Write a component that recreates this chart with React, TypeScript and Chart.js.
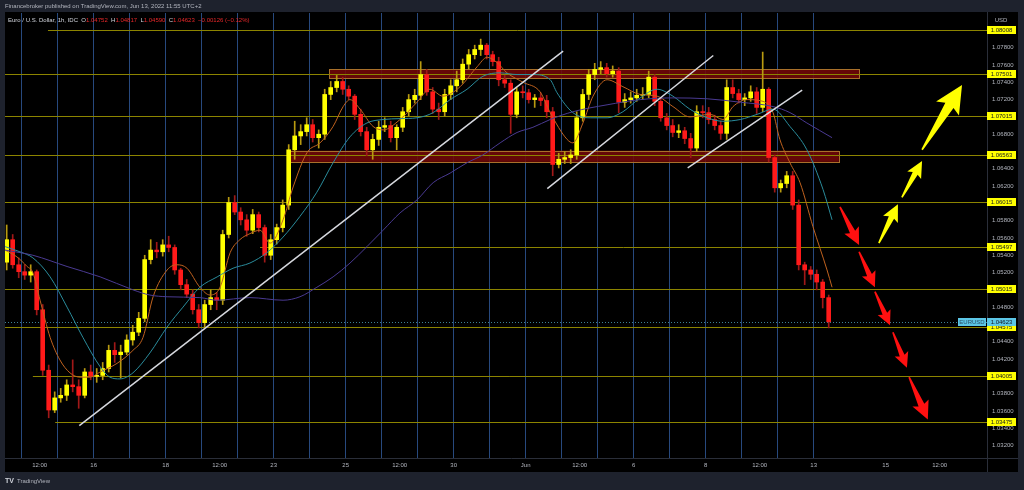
import React, { useEffect, useRef } from 'react';
import { Chart, registerables } from 'chart.js';
Chart.register(...registerables);

const FONT = '"Liberation Sans", Arial, sans-serif';

// ---- price data: 4-hour candles, EUR/USD, starting 11 May 12:00 (trading-day index -0.5) ----
const candleStartDay = -0.5;
const candleHours = 4;
const firstOpen = 1.0532;
const closes = [
  1.0558, 1.0529, 1.0521, 1.0517, 1.0521, 1.0477, 1.0407, 1.0361, 1.0375, 1.0378,
  1.0390, 1.0388, 1.0378, 1.0405, 1.0400, 1.0401, 1.0409, 1.0430, 1.0425, 1.0428,
  1.0442, 1.0451, 1.0467, 1.0535, 1.0546, 1.0544, 1.0552, 1.0549, 1.0523, 1.0506,
  1.0495, 1.0477, 1.0462, 1.0483, 1.0491, 1.0488, 1.0564, 1.0601, 1.0590, 1.0581,
  1.0569, 1.0587, 1.0572, 1.0540, 1.0558, 1.0572, 1.0598, 1.0662, 1.0678, 1.0683,
  1.0691, 1.0676, 1.0680, 1.0726, 1.0734, 1.0741, 1.0732, 1.0724, 1.0703, 1.0683,
  1.0662, 1.0674, 1.0688, 1.0690, 1.0676, 1.0688, 1.0706, 1.0720, 1.0725, 1.0749,
  1.0729, 1.0709, 1.0706, 1.0726, 1.0736, 1.0743, 1.0761, 1.0772, 1.0778, 1.0783,
  1.0772, 1.0764, 1.0743, 1.0739, 1.0703, 1.0729, 1.0728, 1.0720, 1.0722, 1.0719,
  1.0706, 1.0645, 1.0651, 1.0653, 1.0656, 1.0699, 1.0726, 1.0749, 1.0755, 1.0757,
  1.0750, 1.0753, 1.0717, 1.0720, 1.0722, 1.0725, 1.0726, 1.0746, 1.0718, 1.0699,
  1.0690, 1.0682, 1.0684, 1.0675, 1.0664, 1.0706, 1.0705, 1.0697, 1.0690, 1.0681,
  1.0734, 1.0727, 1.0720, 1.0722, 1.0729, 1.0711, 1.0732, 1.0653, 1.0618, 1.0623,
  1.0632, 1.0598, 1.0529, 1.0523, 1.0518, 1.0509, 1.0491, 1.0463,
];
const highs = [
  1.0575, 1.0564, 1.0537, 1.0529, 1.0529, 1.0523, 1.0483, 1.0413, 1.0382, 1.0386,
  1.0396, 1.0419, 1.0396, 1.0409, 1.0413, 1.0409, 1.0416, 1.0436, 1.0439, 1.0436,
  1.0448, 1.0459, 1.0474, 1.0540, 1.0558, 1.0555, 1.0558, 1.0562, 1.0552, 1.0525,
  1.0512, 1.0500, 1.0483, 1.0488, 1.0500, 1.0497, 1.0569, 1.0607, 1.0609, 1.0595,
  1.0587, 1.0593, 1.0590, 1.0575, 1.0564, 1.0576, 1.0604, 1.0668, 1.0695, 1.0691,
  1.0699, 1.0697, 1.0685, 1.0732, 1.0741, 1.0748, 1.0746, 1.0736, 1.0726, 1.0709,
  1.0688, 1.0680, 1.0695, 1.0699, 1.0695, 1.0691, 1.0711, 1.0726, 1.0732, 1.0764,
  1.0755, 1.0734, 1.0716, 1.0732, 1.0743, 1.0753, 1.0767, 1.0778, 1.0783, 1.0790,
  1.0785, 1.0776, 1.0769, 1.0748, 1.0743, 1.0734, 1.0736, 1.0732, 1.0726, 1.0728,
  1.0725, 1.0711, 1.0658, 1.0660, 1.0662, 1.0706, 1.0732, 1.0755, 1.0762, 1.0764,
  1.0762, 1.0759, 1.0757, 1.0727, 1.0729, 1.0732, 1.0734, 1.0753, 1.0749, 1.0722,
  1.0704, 1.0697, 1.0691, 1.0688, 1.0681, 1.0713, 1.0713, 1.0711, 1.0702, 1.0695,
  1.0743, 1.0743, 1.0732, 1.0727, 1.0736, 1.0734, 1.0775, 1.0734, 1.0656, 1.0627,
  1.0637, 1.0637, 1.0604, 1.0532, 1.0527, 1.0523, 1.0512, 1.0494,
];
const lows = [
  1.0523, 1.0525, 1.0514, 1.0512, 1.0509, 1.0471, 1.0401, 1.0352, 1.0358, 1.0370,
  1.0372, 1.0382, 1.0363, 1.0375, 1.0396, 1.0393, 1.0396, 1.0405, 1.0416, 1.0398,
  1.0425, 1.0436, 1.0447, 1.0463, 1.0530, 1.0537, 1.0539, 1.0544, 1.0518, 1.0500,
  1.0491, 1.0472, 1.0456, 1.0457, 1.0477, 1.0477, 1.0483, 1.0560, 1.0587, 1.0575,
  1.0562, 1.0565, 1.0567, 1.0532, 1.0535, 1.0553, 1.0567, 1.0593, 1.0651, 1.0668,
  1.0678, 1.0671, 1.0664, 1.0674, 1.0720, 1.0729, 1.0726, 1.0720, 1.0697, 1.0678,
  1.0655, 1.0651, 1.0667, 1.0683, 1.0671, 1.0662, 1.0683, 1.0701, 1.0716, 1.0720,
  1.0725, 1.0704, 1.0697, 1.0701, 1.0720, 1.0729, 1.0739, 1.0755, 1.0767, 1.0771,
  1.0767, 1.0759, 1.0736, 1.0734, 1.0681, 1.0699, 1.0722, 1.0716, 1.0711, 1.0713,
  1.0699, 1.0632, 1.0641, 1.0646, 1.0646, 1.0651, 1.0695, 1.0720, 1.0743, 1.0750,
  1.0746, 1.0746, 1.0705, 1.0711, 1.0716, 1.0718, 1.0720, 1.0722, 1.0713, 1.0695,
  1.0685, 1.0677, 1.0676, 1.0669, 1.0653, 1.0660, 1.0699, 1.0692, 1.0685, 1.0674,
  1.0674, 1.0722, 1.0716, 1.0713, 1.0718, 1.0704, 1.0706, 1.0648, 1.0613, 1.0613,
  1.0618, 1.0593, 1.0523, 1.0506, 1.0512, 1.0500, 1.0479, 1.0456,
];

// ---- moving averages (day index, price) ----
const fastMaDays = [-0.46, -0.13, 0.15, 0.31, 0.51, 0.79, 1.06, 1.34, 1.62, 1.9, 2.18, 2.65, 3.09, 3.37, 3.65, 4.04, 4.31, 4.59, 4.95, 5.23, 5.51, 5.79, 6.06, 6.34, 6.62, 6.9, 7.26, 7.54, 7.93, 8.29, 8.65, 8.93, 9.12, 9.4, 9.76, 10.04, 10.51, 10.98, 11.34, 11.7, 12.18, 12.65, 12.93, 13.2, 13.48, 13.93, 14.4, 14.68, 15.15, 15.31, 15.59, 15.87, 16.26, 16.7, 17.18, 17.65, 18.09, 18.56, 19.12, 19.48, 19.76, 20.15, 20.59, 20.87, 21.06, 21.34, 21.62, 21.98, 22.37, 22.51];
const fastMaValues = [1.0546, 1.0538, 1.0527, 1.052, 1.0488, 1.0445, 1.0419, 1.0404, 1.0399, 1.0399, 1.0405, 1.0415, 1.043, 1.0445, 1.0492, 1.0523, 1.0529, 1.0525, 1.0503, 1.0494, 1.0503, 1.0543, 1.0558, 1.0565, 1.0569, 1.0554, 1.0581, 1.0619, 1.0659, 1.067, 1.0689, 1.0712, 1.072, 1.0709, 1.0689, 1.0685, 1.0697, 1.0717, 1.0732, 1.0724, 1.0735, 1.0758, 1.0769, 1.0763, 1.0751, 1.074, 1.0729, 1.0705, 1.0674, 1.067, 1.0693, 1.0724, 1.0743, 1.0735, 1.0726, 1.0724, 1.0712, 1.07, 1.0703, 1.0697, 1.0712, 1.072, 1.0718, 1.0705, 1.0674, 1.0647, 1.0624, 1.0573, 1.0523, 1.0503];
const midMaDays = [-0.46, -0.05, 0.31, 0.79, 1.26, 1.7, 2.18, 2.45, 2.73, 3.09, 3.56, 4.04, 4.48, 4.95, 5.43, 5.87, 6.34, 6.81, 7.26, 7.73, 8.2, 8.65, 9.12, 9.59, 10.04, 10.51, 10.98, 11.43, 11.9, 12.37, 12.81, 13.29, 13.76, 14.2, 14.68, 14.87, 15.31, 15.79, 16.26, 16.7, 17.18, 17.65, 18.09, 18.56, 19.04, 19.48, 19.96, 20.43, 20.87, 21.34, 21.81, 22.26, 22.51];
const midMaValues = [1.055, 1.0544, 1.0537, 1.0515, 1.048, 1.0445, 1.0411, 1.0399, 1.0397, 1.0404, 1.0427, 1.0457, 1.048, 1.0503, 1.0515, 1.0525, 1.0531, 1.0543, 1.0561, 1.0585, 1.0613, 1.0647, 1.0677, 1.0693, 1.0697, 1.0698, 1.0699, 1.0705, 1.072, 1.0732, 1.0747, 1.0751, 1.0749, 1.0749, 1.0743, 1.0728, 1.0705, 1.0699, 1.0699, 1.0706, 1.0722, 1.0732, 1.0724, 1.0709, 1.0699, 1.0695, 1.0697, 1.0703, 1.0709, 1.0689, 1.0662, 1.0616, 1.0581];
const slowMaDays = [-0.46, 0.31, 1.26, 2.18, 3.09, 3.56, 4.04, 4.95, 5.43, 6.34, 7.26, 7.73, 8.2, 8.65, 9.12, 9.59, 10.04, 10.51, 10.98, 11.43, 11.9, 12.37, 12.81, 13.29, 13.76, 14.2, 14.68, 15.31, 16.26, 17.18, 18.09, 19.04, 19.96, 20.87, 21.34, 21.81, 22.51];
const slowMaValues = [1.0546, 1.054, 1.0527, 1.0515, 1.05, 1.0494, 1.0492, 1.0491, 1.0488, 1.0491, 1.0488, 1.0492, 1.0503, 1.0515, 1.0531, 1.055, 1.0569, 1.0589, 1.0604, 1.0624, 1.0635, 1.0647, 1.0656, 1.067, 1.0682, 1.0688, 1.0697, 1.0706, 1.0714, 1.072, 1.0722, 1.0721, 1.0717, 1.0712, 1.0705, 1.0693, 1.0676];

// ---- horizontal levels ----
const levelPrices = [1.08008, 1.07501, 1.07015, 1.06563, 1.06015, 1.05497, 1.05015, 1.04575, 1.04005, 1.03475];
const levelStartDays = [0.73, -0.47, -0.47, -0.47, -0.47, 6.62, -0.47, -0.47, 0.31, 0.93];

// ---- zones ----
const zoneStartDays = [8.54, 7.37];
const zoneEndDays = [23.27, 22.7];
const zoneTops = [1.0755, 1.0661];
const zoneBottoms = [1.0745, 1.0648];

// ---- trend lines ----
const trendStartDays = [1.6, 14.6, 18.5];
const trendStartPrices = [1.0343, 1.0617, 1.0641];
const trendEndDays = [15.04, 19.21, 21.68];
const trendEndPrices = [1.0776, 1.0771, 1.0731];

// ---- projected arrows ----
const redArrowStartDays = [22.73, 23.26, 23.7, 24.2, 24.65];
const redArrowStartPrices = [1.0596, 1.0544, 1.0498, 1.0451, 1.0399];
const redArrowEndDays = [23.26, 23.7, 24.12, 24.59, 25.17];
const redArrowEndPrices = [1.0552, 1.0503, 1.0459, 1.041, 1.035];
const yellowArrowStartDays = [23.81, 24.45, 25.01];
const yellowArrowStartPrices = [1.0554, 1.0607, 1.0662];
const yellowArrowEndDays = [24.34, 25.01, 26.12];
const yellowArrowEndPrices = [1.0599, 1.0649, 1.0737];

// ---- axes ----
const gridDays = [0, 1, 2, 3, 4, 5, 6, 7, 8, 9, 10, 11, 12, 13, 14, 15, 16, 17, 18, 19, 20, 21, 22];
const xLabelDays = [0.5, 2, 4, 5.5, 7, 9, 10.5, 12, 14, 15.5, 17, 19, 20.5, 22, 24, 25.5];
const xLabelTexts = ['12:00', '16', '18', '12:00', '23', '25', '12:00', '30', 'Jun', '12:00', '6', '8', '12:00', '13', '15', '12:00'];
const yTickValues = [1.032, 1.034, 1.036, 1.038, 1.042, 1.044, 1.048, 1.052, 1.054, 1.056, 1.058, 1.062, 1.064, 1.068, 1.072, 1.074, 1.076, 1.078];
const lastPrice = 1.04623;

const X_MIN = -0.4639;
const X_MAX = 26.814;
const Y_MIN = 1.03055;
const Y_MAX = 1.08202;

const FRAME = { left: 5, top: 12, right: 1018, bottom: 472 };

function drawArrow(ctx: CanvasRenderingContext2D, x1: number, y1: number, x2: number, y2: number, color: string) {
  const dx = x2 - x1, dy = y2 - y1;
  const L = Math.hypot(dx, dy);
  const ux = dx / L, uy = dy / L, nx = -uy, ny = ux;
  const head = Math.min(L * 0.34, 24);
  const hw = head * 0.56;
  const sw = head * 0.2;
  const s0 = 0.8;
  const bx = x2 - ux * head, by = y2 - uy * head;
  const back = head * 0.15;
  ctx.fillStyle = color;
  ctx.beginPath();
  ctx.moveTo(x1 + nx * s0, y1 + ny * s0);
  ctx.lineTo(bx + nx * sw, by + ny * sw);
  ctx.lineTo(bx - ux * back + nx * hw, by - uy * back + ny * hw);
  ctx.lineTo(x2, y2);
  ctx.lineTo(bx - ux * back - nx * hw, by - uy * back - ny * hw);
  ctx.lineTo(bx - nx * sw, by - ny * sw);
  ctx.lineTo(x1 - nx * s0, y1 - ny * s0);
  ctx.closePath();
  ctx.fill();
}

function priceLabel(ctx: CanvasRenderingContext2D, y: number, text: string, bg: string, fg: string) {
  ctx.fillStyle = bg;
  ctx.fillRect(987, Math.round(y) - 4, 29, 8);
  ctx.fillStyle = fg;
  ctx.font = `6px ${FONT}`;
  ctx.textAlign = 'center';
  ctx.textBaseline = 'middle';
  ctx.fillText(text, 1001.5, Math.round(y) + 0.5);
}

const decorPlugin = {
  id: 'decor',
  beforeDraw(chart: any) {
    const { ctx, width, height } = chart;
    ctx.save();
    ctx.fillStyle = '#1e222d';
    ctx.fillRect(0, 0, width, height);
    ctx.fillStyle = '#000000';
    ctx.fillRect(FRAME.left, FRAME.top, FRAME.right - FRAME.left, FRAME.bottom - FRAME.top);
    ctx.restore();
  },
  beforeDatasetsDraw(chart: any) {
    const { ctx, chartArea: a } = chart;
    const xs = chart.scales.x, ys = chart.scales.y;
    ctx.save();
    ctx.beginPath();
    ctx.rect(a.left, a.top, a.right - a.left, a.bottom - a.top);
    ctx.clip();
    zoneStartDays.forEach((d, i) => {
      const x1 = xs.getPixelForValue(d), x2 = xs.getPixelForValue(zoneEndDays[i]);
      const y1 = ys.getPixelForValue(zoneTops[i]), y2 = ys.getPixelForValue(zoneBottoms[i]);
      ctx.fillStyle = 'rgba(115,8,8,0.88)';
      ctx.fillRect(x1, y1, x2 - x1, y2 - y1);
      ctx.strokeStyle = '#a8702a';
      ctx.lineWidth = 1;
      ctx.strokeRect(Math.round(x1) + 0.5, Math.round(y1) + 0.5, Math.round(x2 - x1), Math.round(y2 - y1));
    });
    ctx.strokeStyle = '#8c8400';
    ctx.lineWidth = 1;
    levelPrices.forEach((p, i) => {
      const y = Math.round(ys.getPixelForValue(p)) + 0.5;
      const x1 = Math.max(a.left, xs.getPixelForValue(levelStartDays[i]));
      ctx.beginPath();
      ctx.moveTo(x1, y);
      ctx.lineTo(a.right, y);
      ctx.stroke();
    });
    const ly = Math.round(ys.getPixelForValue(lastPrice)) + 0.5;
    ctx.strokeStyle = 'rgba(80,170,200,0.75)';
    ctx.setLineDash([1, 2]);
    ctx.beginPath();
    ctx.moveTo(a.left, ly);
    ctx.lineTo(a.right, ly);
    ctx.stroke();
    ctx.setLineDash([]);
    ctx.restore();
  },
  afterDatasetsDraw(chart: any) {
    const { ctx, chartArea: a } = chart;
    const xs = chart.scales.x, ys = chart.scales.y;
    ctx.save();
    ctx.beginPath();
    ctx.rect(a.left, a.top, a.right - a.left, a.bottom - a.top);
    ctx.clip();
    ctx.strokeStyle = '#d6d8de';
    ctx.lineWidth = 1.5;
    trendStartDays.forEach((d, i) => {
      ctx.beginPath();
      ctx.moveTo(xs.getPixelForValue(d), ys.getPixelForValue(trendStartPrices[i]));
      ctx.lineTo(xs.getPixelForValue(trendEndDays[i]), ys.getPixelForValue(trendEndPrices[i]));
      ctx.stroke();
    });
    redArrowStartDays.forEach((d, i) => {
      drawArrow(ctx, xs.getPixelForValue(d), ys.getPixelForValue(redArrowStartPrices[i]),
        xs.getPixelForValue(redArrowEndDays[i]), ys.getPixelForValue(redArrowEndPrices[i]), '#ff1010');
    });
    yellowArrowStartDays.forEach((d, i) => {
      drawArrow(ctx, xs.getPixelForValue(d), ys.getPixelForValue(yellowArrowStartPrices[i]),
        xs.getPixelForValue(yellowArrowEndDays[i]), ys.getPixelForValue(yellowArrowEndPrices[i]), '#ffff00');
    });
    ctx.restore();
  },
  afterDraw(chart: any) {
    const { ctx, chartArea: a } = chart;
    const ys = chart.scales.y;
    ctx.save();
    ctx.strokeStyle = '#2a2e39';
    ctx.lineWidth = 1;
    ctx.beginPath();
    ctx.moveTo(a.right + 0.5, FRAME.top);
    ctx.lineTo(a.right + 0.5, FRAME.bottom);
    ctx.moveTo(FRAME.left, a.bottom + 0.5);
    ctx.lineTo(FRAME.right, a.bottom + 0.5);
    ctx.stroke();
    levelPrices.forEach((p) => {
      priceLabel(ctx, ys.getPixelForValue(p), p.toFixed(5), '#ffff00', '#131722');
    });
    const ly = ys.getPixelForValue(lastPrice);
    priceLabel(ctx, ly, lastPrice.toFixed(5), '#5cc6e6', '#131722');
    ctx.fillStyle = '#5cc6e6';
    ctx.fillRect(958, Math.round(ly) - 4, 28, 8);
    ctx.fillStyle = '#2b4f66';
    ctx.textAlign = 'center';
    ctx.fillText('EURUSD', 972, Math.round(ly) + 0.5);
    ctx.fillStyle = '#b2b5be';
    ctx.font = `6px ${FONT}`;
    ctx.fillText('USD', 1001, 20);
    ctx.textAlign = 'left';
    ctx.textBaseline = 'middle';
    ctx.fillStyle = '#b2b5be';
    ctx.fillText('Financebroker published on TradingView.com, Jun 13, 2022 11:55 UTC+2', 5, 6);
    const parts: [string, string][] = [
      ['Euro / U.S. Dollar, 1h, IDC', '#d1d4dc'],
      ['  O', '#d1d4dc'], ['1.04752', '#e8282a'],
      ['  H', '#d1d4dc'], ['1.04817', '#e8282a'],
      ['  L', '#d1d4dc'], ['1.04590', '#e8282a'],
      ['  C', '#d1d4dc'], ['1.04623', '#e8282a'],
      ['  \u22120.00126 (\u22120.12%)', '#e8282a'],
    ];
    let x = 8;
    parts.forEach(([t, c]) => {
      ctx.fillStyle = c;
      ctx.fillText(t, x, 20.5);
      x += ctx.measureText(t).width;
    });
    ctx.fillStyle = '#d1d4dc';
    ctx.font = `bold 7px ${FONT}`;
    ctx.fillText('TV', 5, 481);
    ctx.font = `6px ${FONT}`;
    ctx.fillStyle = '#b2b5be';
    ctx.fillText('TradingView', 17, 481);
    ctx.restore();
  },
};

export default function App() {
  const ref = useRef<HTMLCanvasElement | null>(null);
  useEffect(() => {
    const canvas = ref.current;
    if (!canvas) return;
    const stepDay = candleHours / 24;
    const xs = closes.map((_, i) => candleStartDay + (i + 0.5) * stepDay);
    const opens = closes.map((_, i) => (i === 0 ? firstOpen : closes[i - 1]));
    const bodyData = closes.map((c, i) => ({ x: xs[i], y: [opens[i], c] }));
    const wickData = closes.map((_, i) => ({ x: xs[i], y: [lows[i], highs[i]] }));
    const bodyColors = closes.map((c, i) => (c >= opens[i] ? '#ffff00' : '#ff1a1a'));
    const wickColors = closes.map((c, i) => (c >= opens[i] ? '#b89a10' : '#a01818'));
    const line = (days: number[], vals: number[], color: string) => ({
      type: 'line' as const,
      data: days.map((d, i) => ({ x: d, y: vals[i] })),
      borderColor: color,
      borderWidth: 1,
      pointRadius: 0,
      cubicInterpolationMode: 'monotone' as const,
      fill: false,
      order: 0,
    });
    const xTickDays = Array.from(new Set([...gridDays, ...xLabelDays])).sort((a, b) => a - b);

    const chart = new Chart(canvas, {
      type: 'bar',
      data: {
        datasets: [
          { type: 'bar', data: wickData as any, backgroundColor: wickColors, barThickness: 1, grouped: false, order: 3 } as any,
          { type: 'bar', data: bodyData as any, backgroundColor: bodyColors, barThickness: 4, grouped: false, minBarLength: 1, order: 2 } as any,
          line(slowMaDays, slowMaValues, '#4a3a92'),
          line(midMaDays, midMaValues, '#2a8c9c'),
          line(fastMaDays, fastMaValues, '#c0621e'),
        ],
      },
      options: {
        responsive: false,
        animation: false,
        devicePixelRatio: 1,
        events: [],
        layout: { padding: { left: 5, top: 13, right: 6, bottom: 18 } },
        plugins: { legend: { display: false }, tooltip: { enabled: false } },
        scales: {
          x: {
            type: 'linear',
            min: X_MIN,
            max: X_MAX,
            offset: false,
            afterBuildTicks: (s: any) => { s.ticks = xTickDays.map((v) => ({ value: v })); },
            afterFit: (s: any) => { s.height = 14; },
            grid: {
              offset: false,
              drawTicks: false,
              lineWidth: 1,
              color: (c: any) => (c.tick && gridDays.includes(c.tick.value) ? '#27497e' : 'rgba(0,0,0,0)'),
            },
            border: { display: false },
            ticks: {
              autoSkip: false,
              maxRotation: 0,
              minRotation: 0,
              padding: 4,
              color: '#b2b5be',
              font: { size: 6, family: FONT },
              callback: (v: any) => {
                const i = xLabelDays.indexOf(Number(v));
                return i >= 0 ? xLabelTexts[i] : '';
              },
            },
          },
          y: {
            position: 'right',
            min: Y_MIN,
            max: Y_MAX,
            afterBuildTicks: (s: any) => { s.ticks = yTickValues.map((v) => ({ value: v })); },
            afterFit: (s: any) => { s.width = 31; },
            grid: { display: false, drawTicks: false },
            border: { display: false },
            ticks: {
              padding: 5,
              crossAlign: 'center',
              color: '#b2b5be',
              font: { size: 6, family: FONT },
              callback: (v: any) => Number(v).toFixed(5),
            },
          },
        },
      } as any,
      plugins: [decorPlugin],
    });
    return () => chart.destroy();
  }, []);

  return (
    <div style={{ position: 'absolute', left: 0, top: 0, width: 1024, height: 490, overflow: 'hidden' }}>
      <canvas ref={ref} width={1024} height={490} style={{ display: 'block', width: 1024, height: 490 }} />
    </div>
  );
}
